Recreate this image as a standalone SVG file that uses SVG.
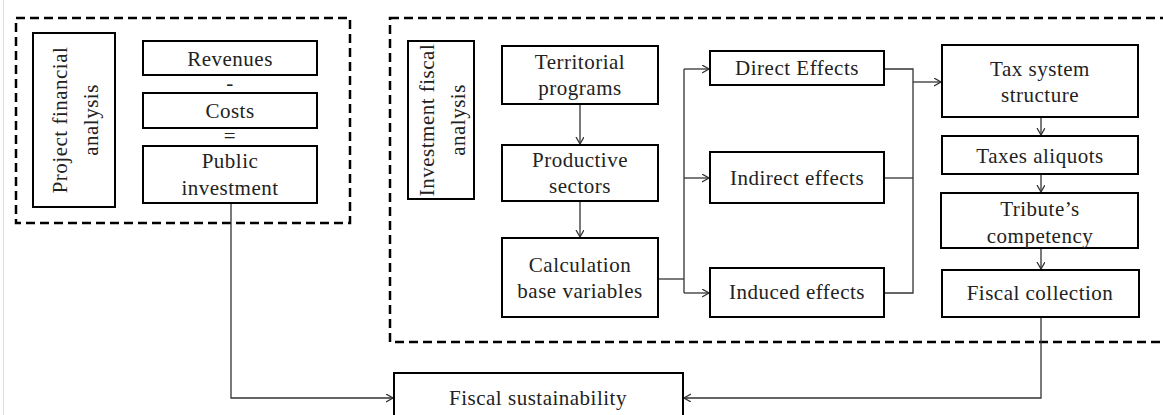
<svg xmlns="http://www.w3.org/2000/svg" width="1163" height="415" viewBox="0 0 1163 415">
  <style>
    .box { fill: #fff; stroke: #000; stroke-width: 2; }
    .group { fill: none; stroke: #000; stroke-width: 2.5; stroke-dasharray: 9 5; }
    .lbl { font-family: 'Liberation Serif', Tinos, 'DejaVu Serif', serif; font-size: 21px; letter-spacing: 0.5px; fill: #222; text-anchor: middle; }
    .link { fill: none; stroke: #333; stroke-width: 1.3; }
  </style>
  <defs>
    <marker id="arrow" markerUnits="userSpaceOnUse" markerWidth="10" markerHeight="10" refX="7" refY="4" orient="auto">
      <path d="M0,0 L7,4 L0,8" fill="none" stroke="#333" stroke-width="1.3"/>
    </marker>
  </defs>

  <rect width="1163" height="415" fill="#fff"/>
  <line x1="3.5" y1="0" x2="3.5" y2="415" stroke="#ddd" stroke-width="1"/>

  <!-- dashed grouping frames -->
  <g id="frames">
    <rect class="group" x="16" y="18" width="334" height="205"/>
    <rect class="group" x="390" y="18" width="790" height="324"/>
  </g>

  <!-- connectors -->
  <g id="connectors">
    <line class="link" x1="580" y1="104" x2="580" y2="144" marker-end="url(#arrow)"/>
    <line class="link" x1="580" y1="201" x2="580" y2="237" marker-end="url(#arrow)"/>
    <polyline class="link" points="658,279 684,279"/>
    <line class="link" x1="684" y1="69" x2="684" y2="293"/>
    <line class="link" x1="684" y1="69" x2="709" y2="69" marker-end="url(#arrow)"/>
    <line class="link" x1="684" y1="178" x2="709" y2="178" marker-end="url(#arrow)"/>
    <line class="link" x1="684" y1="293" x2="709" y2="293" marker-end="url(#arrow)"/>
    <polyline class="link" points="884,69 913,69 913,293 884,293"/>
    <line class="link" x1="884" y1="178" x2="913" y2="178"/>
    <line class="link" x1="913" y1="82" x2="941" y2="82" marker-end="url(#arrow)"/>
    <line class="link" x1="1041" y1="117" x2="1041" y2="135" marker-end="url(#arrow)"/>
    <line class="link" x1="1041" y1="174" x2="1041" y2="192" marker-end="url(#arrow)"/>
    <line class="link" x1="1041" y1="248" x2="1041" y2="269" marker-end="url(#arrow)"/>
    <polyline class="link" points="231,203 231,398 393,398" marker-end="url(#arrow)"/>
    <polyline class="link" points="1041,317 1041,398 684,398" marker-end="url(#arrow)"/>
  </g>

  <g font-family="Liberation Serif, Tinos, DejaVu Serif, serif">
  <!-- project financial analysis -->
  <g id="project-financial-analysis">
    <rect class="box" x="33" y="33" width="82" height="174"/>
    <text class="lbl" transform="translate(67,120) rotate(-90)" x="0" y="0">Project financial</text>
    <text class="lbl" transform="translate(98,120) rotate(-90)" x="0" y="0">analysis</text>
  </g>
  <g id="revenues">
    <rect class="box" x="143" y="41" width="174" height="34"/>
    <text class="lbl" x="230" y="66">Revenues</text>
  </g>
  <text class="lbl" x="230" y="90">-</text>
  <g id="costs">
    <rect class="box" x="143" y="93" width="174" height="35"/>
    <text class="lbl" x="230" y="118">Costs</text>
  </g>
  <text class="lbl" x="230" y="143">=</text>
  <g id="public-investment">
    <rect class="box" x="143" y="146" width="174" height="57"/>
    <text class="lbl" x="230" y="168">Public</text>
    <text class="lbl" x="230" y="195">investment</text>
  </g>

  <!-- investment fiscal analysis -->
  <g id="investment-fiscal-analysis">
    <rect class="box" x="408" y="41" width="66" height="158"/>
    <text class="lbl" transform="translate(434,120) rotate(-90)" x="0" y="0">Investment fiscal</text>
    <text class="lbl" transform="translate(465,120) rotate(-90)" x="0" y="0">analysis</text>
  </g>
  <g id="territorial-programs">
    <rect class="box" x="502" y="46" width="156" height="58"/>
    <text class="lbl" x="580" y="69">Territorial</text>
    <text class="lbl" x="580" y="95">programs</text>
  </g>
  <g id="productive-sectors">
    <rect class="box" x="502" y="145" width="156" height="56"/>
    <text class="lbl" x="580" y="167">Productive</text>
    <text class="lbl" x="580" y="193">sectors</text>
  </g>
  <g id="calculation-base-variables">
    <rect class="box" x="502" y="238" width="156" height="79"/>
    <text class="lbl" x="580" y="272">Calculation</text>
    <text class="lbl" x="580" y="298">base variables</text>
  </g>
  <g id="direct-effects">
    <rect class="box" x="710" y="51" width="174" height="34"/>
    <text class="lbl" x="797" y="75">Direct Effects</text>
  </g>
  <g id="indirect-effects">
    <rect class="box" x="710" y="152" width="174" height="51"/>
    <text class="lbl" x="797" y="185">Indirect effects</text>
  </g>
  <g id="induced-effects">
    <rect class="box" x="710" y="268" width="174" height="49"/>
    <text class="lbl" x="797" y="299">Induced effects</text>
  </g>
  <g id="tax-system-structure">
    <rect class="box" x="942" y="45" width="196" height="72"/>
    <text class="lbl" x="1040" y="76">Tax system</text>
    <text class="lbl" x="1040" y="102">structure</text>
  </g>
  <g id="taxes-aliquots">
    <rect class="box" x="942" y="136" width="196" height="38"/>
    <text class="lbl" x="1040" y="163">Taxes aliquots</text>
  </g>
  <g id="tributes-competency">
    <rect class="box" x="941" y="193" width="197" height="55"/>
    <text class="lbl" x="1040" y="216">Tribute’s</text>
    <text class="lbl" x="1040" y="243">competency</text>
  </g>
  <g id="fiscal-collection">
    <rect class="box" x="942" y="270" width="197" height="47"/>
    <text class="lbl" x="1040" y="300">Fiscal collection</text>
  </g>

  <!-- outcome -->
  <g id="fiscal-sustainability">
    <rect class="box" x="394" y="373" width="289" height="60"/>
    <text class="lbl" x="538" y="405">Fiscal sustainability</text>
  </g>
  </g>
</svg>
